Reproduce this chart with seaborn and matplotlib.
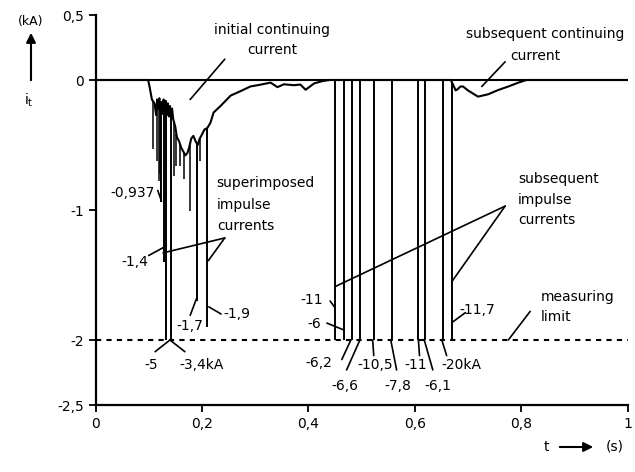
import numpy as np
import matplotlib
matplotlib.use("Agg")
import matplotlib.pyplot as plt
import seaborn as sns

# continuing current (t in s, i in kA)
trace_t = [0.0, 0.099, 0.102, 0.106, 0.111, 0.114, 0.116, 0.118, 0.120, 0.122,
           0.124, 0.126, 0.128, 0.130, 0.132, 0.134, 0.136, 0.138, 0.140, 0.142,
           0.144, 0.146, 0.148, 0.150, 0.153, 0.157, 0.161, 0.165, 0.169, 0.173,
           0.176, 0.180, 0.184, 0.188, 0.192, 0.196, 0.200, 0.205, 0.210, 0.216,
           0.222, 0.235, 0.254, 0.273, 0.291, 0.310, 0.329, 0.342, 0.354, 0.373,
           0.385, 0.395, 0.411, 0.427, 0.440, 0.668, 0.677, 0.681, 0.686, 0.691,
           0.700, 0.719, 0.738, 0.757, 0.776, 0.795, 0.810, 1.0]
trace_i = [0.0, 0.0, -0.06, -0.15, -0.18, -0.27, -0.15, -0.22, -0.14, -0.25,
           -0.17, -0.26, -0.15, -0.24, -0.16, -0.27, -0.18, -0.28, -0.20, -0.30,
           -0.22, -0.30, -0.33, -0.36, -0.44, -0.47, -0.52, -0.55, -0.58, -0.56,
           -0.52, -0.45, -0.43, -0.47, -0.50, -0.45, -0.42, -0.38, -0.37, -0.33,
           -0.25, -0.20, -0.12, -0.085, -0.05, -0.036, -0.02, -0.055, -0.033, -0.04,
           -0.035, -0.075, -0.026, -0.008, 0.0, 0.0, -0.08, -0.07, -0.05, -0.05,
           -0.08, -0.128, -0.11, -0.077, -0.05, -0.02, 0.0, 0.0]

# small unlabelled pulses on the initial continuing current
minor_t = [0.109, 0.115, 0.119, 0.122, 0.147, 0.152, 0.159, 0.166, 0.177, 0.196]
minor_peak = [-0.53, -0.62, -0.78, -0.72, -0.74, -0.66, -0.66, -0.76, -1.01, -0.62]

# superimposed impulse currents (kA)
sup_t = [0.124, 0.128, 0.133, 0.142, 0.190, 0.210]
sup_peak = [-0.937, -1.4, -5, -3.4, -1.7, -1.9]
sup_labels = ["-0,937", "-1,4", "-5", "-3,4kA", "-1,7", "-1,9"]

# subsequent impulse currents (kA)
sub_t = [0.450, 0.467, 0.482, 0.498, 0.524, 0.557, 0.607, 0.619, 0.654, 0.670]
sub_peak = [-11, -6, -6.2, -6.6, -10.5, -7.8, -11, -6.1, -20, -11.7]
sub_labels = ["-11", "-6", "-6,2", "-6,6", "-10,5", "-7,8", "-11", "-6,1", "-20kA", "-11,7"]

limit = -2.0  # measuring limit

x_ticks = [0, 0.2, 0.4, 0.6, 0.8, 1]
x_ticklabels = ["0", "0,2", "0,4", "0,6", "0,8", "1"]
y_ticks = [0.5, 0, -1, -2, -2.5]
y_ticklabels = ["0,5", "0", "-1", "-2", "-2,5"]

sns.set_style("ticks")
plt.rcParams["font.family"] = ["DejaVu Sans"]
plt.rcParams["font.size"] = 10
plt.rcParams["text.color"] = "k"
plt.rcParams["axes.unicode_minus"] = False

fig = plt.figure(figsize=(6.35, 4.72), dpi=100)
ax = fig.add_axes([95.5 / 635, 1 - 405 / 472, 532 / 635, 390 / 472])

# zero line and measuring limit
ax.axhline(0, color="k", lw=1.5)
ax.axhline(limit, color="k", lw=1.5, ls=(0, (2.5, 2.5)))

sns.lineplot(x=trace_t, y=trace_i, sort=False, estimator=None, color="k", lw=1.5, ax=ax)

# impulses start on the trace and are clipped at the measuring limit
for ts, ps, lw in [(minor_t, minor_peak, 1.1), (sup_t, sup_peak, 1.4), (sub_t, sub_peak, 1.4)]:
    ts = np.array(ts)
    base = np.interp(ts, trace_t, trace_i)
    bottom = np.maximum(np.array(ps), limit)
    ax.vlines(ts, base, bottom, color="k", lw=lw)

# peak value labels
sup_pos = [(0.069, -0.87), (0.073, -1.40), (0.104, -2.19), (0.199, -2.19), (0.178, -1.89), (0.265, -1.80)]
sub_pos = [(0.407, -1.69), (0.411, -1.88), (0.420, -2.18), (0.469, -2.35), (0.525, -2.19),
           (0.569, -2.35), (0.602, -2.19), (0.644, -2.35), (0.687, -2.19), (0.717, -1.77)]
for lab, (x, y) in zip(sup_labels + sub_labels, sup_pos + sub_pos):
    ax.text(x, y, lab, ha="center", va="center", fontsize=10)

# leader lines
leaders = [
    ((0.243, 0.16), (0.178, -0.15)),
    ((0.770, 0.14), (0.726, -0.05)),
    ((0.243, -1.215), (0.127, -1.33)),
    ((0.243, -1.215), (0.212, -1.39)),
    ((0.770, -0.97), (0.450, -1.59)),
    ((0.770, -0.97), (0.670, -1.55)),
    ((0.817, -1.78), (0.776, -2.0)),
    ((0.117, -0.85), (0.124, -0.93)),
    ((0.100, -1.35), (0.127, -1.29)),
    ((0.178, -1.81), (0.190, -1.68)),
    ((0.236, -1.80), (0.213, -1.745)),
    ((0.140, -2.0), (0.112, -2.09)),
    ((0.140, -2.0), (0.168, -2.09)),
    ((0.441, -1.70), (0.450, -1.75)),
    ((0.435, -1.87), (0.465, -1.92)),
    ((0.463, -2.15), (0.480, -2.0)),
    ((0.472, -2.23), (0.497, -2.0)),
    ((0.523, -2.12), (0.521, -2.0)),
    ((0.566, -2.23), (0.555, -2.0)),
    ((0.609, -2.12), (0.607, -2.0)),
    ((0.634, -2.23), (0.618, -2.0)),
    ((0.660, -2.12), (0.651, -2.0)),
    ((0.695, -1.79), (0.672, -1.86)),
]
for (x1, y1), (x2, y2) in leaders:
    ax.plot([x1, x2], [y1, y2], color="k", lw=1.2)

# annotations
ax.text(0.332, 0.385, "initial continuing", ha="center", va="center")
ax.text(0.332, 0.23, "current", ha="center", va="center")
ax.text(0.845, 0.355, "subsequent continuing", ha="center", va="center")
ax.text(0.826, 0.185, "current", ha="center", va="center")
for k, line in enumerate(["superimposed", "impulse", "currents"]):
    ax.text(0.228, -0.795 - 0.165 * k, line, ha="left", va="center")
for k, line in enumerate(["subsequent", "impulse", "currents"]):
    ax.text(0.794, -0.76 - 0.16 * k, line, ha="left", va="center")
ax.text(0.836, -1.67, "measuring", ha="left", va="center")
ax.text(0.836, -1.82, "limit", ha="left", va="center")

ax.set_xlim(0, 1)
ax.set_ylim(-2.5, 0.5)
ax.set_xticks(x_ticks, x_ticklabels)
ax.set_yticks(y_ticks, y_ticklabels)
ax.tick_params(direction="out", length=5, width=1.3, labelsize=10, colors="k")
ax.set_xlabel("")
ax.set_ylabel("")
sns.despine(ax=ax)
for s in ["left", "bottom"]:
    ax.spines[s].set_linewidth(1.6)
    ax.spines[s].set_color("k")

# axis quantity labels with arrows
fig.text(31 / 635, 1 - 22 / 472, "(kA)", ha="center", va="center", fontsize=9)
fig.text(29 / 635, 1 - 100 / 472, r"i$_\mathregular{t}$", ha="center", va="center", fontsize=10)
fig.add_artist(matplotlib.patches.FancyArrowPatch((31 / 635, 1 - 83 / 472), (31 / 635, 1 - 30 / 472),
                                                  transform=fig.transFigure, arrowstyle="-|>",
                                                  mutation_scale=14, color="k", lw=1.5))
fig.text(546 / 635, 1 - 447 / 472, "t", ha="center", va="center")
fig.add_artist(matplotlib.patches.FancyArrowPatch((557 / 635, 1 - 447 / 472), (596 / 635, 1 - 447 / 472),
                                                  transform=fig.transFigure, arrowstyle="-|>",
                                                  mutation_scale=14, color="k", lw=1.5))
fig.text(615 / 635, 1 - 447 / 472, "(s)", ha="center", va="center")

fig.savefig("out.png", dpi=100)
